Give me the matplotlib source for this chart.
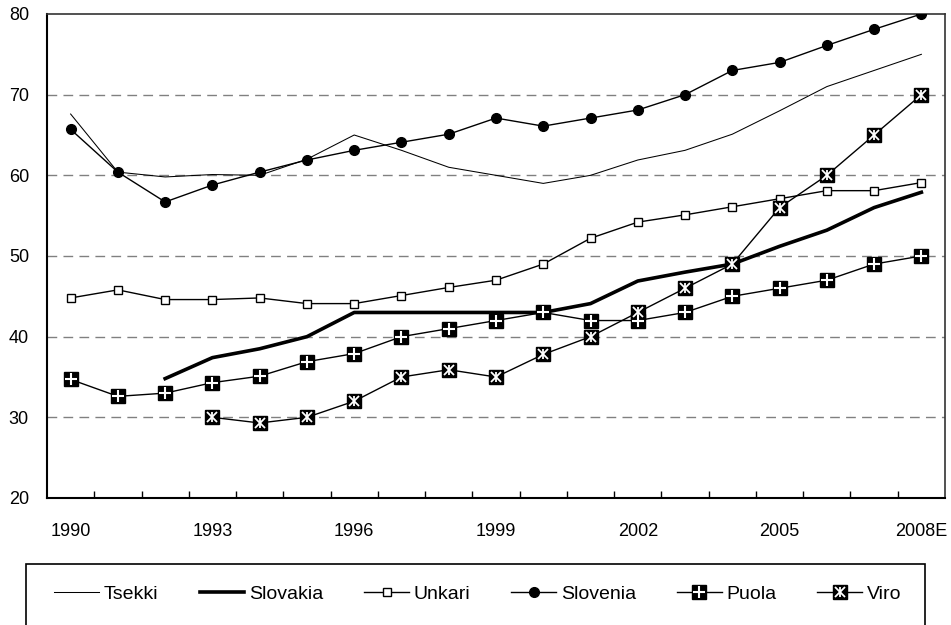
import matplotlib.pyplot as plt
from matplotlib.lines import Line2D
from matplotlib.patches import Rectangle

plt.rcParams['font.family'] = ['Liberation Sans', 'DejaVu Sans']

years = ['1990', '1991', '1992', '1993', '1994', '1995', '1996', '1997', '1998', '1999',
         '2000', '2001', '2002', '2003', '2004', '2005', '2006', '2007', '2008E']
x = list(range(len(years)))

tsekki = [67.6, 60.4, 59.8, 60.1, 60.0, 62.0, 65.0, 63.1, 61.0, 60.0,
          59.0, 60.0, 61.9, 63.1, 65.1, 68.0, 71.0, 73.0, 75.0]
slovakia = [None, None, 34.8, 37.4, 38.5, 40.0, 43.0, 43.0, 43.0, 43.0,
            43.0, 44.1, 46.9, 48.0, 49.0, 51.2, 53.2, 56.0, 57.9]
unkari = [44.8, 45.8, 44.6, 44.6, 44.8, 44.1, 44.1, 45.1, 46.1, 47.0,
          49.0, 52.2, 54.2, 55.1, 56.1, 57.1, 58.1, 58.1, 59.1]
slovenia = [65.7, 60.4, 56.7, 58.8, 60.4, 61.9, 63.1, 64.1, 65.1, 67.1,
            66.1, 67.1, 68.1, 70.0, 73.0, 74.0, 76.1, 78.1, 80.0]
puola = [34.7, 32.6, 33.0, 34.3, 35.1, 36.9, 37.9, 40.0, 41.0, 42.0,
         43.0, 42.0, 42.0, 43.0, 45.0, 46.0, 47.0, 49.0, 50.0]
viro = [None, None, None, 30.0, 29.3, 30.0, 32.0, 35.0, 35.9, 35.0,
        37.8, 40.0, 43.0, 46.0, 49.0, 56.0, 60.0, 65.0, 70.0]

def clean(vals):
    xs = [i for i, v in zip(x, vals) if v is not None]
    ys = [v for v in vals if v is not None]
    return xs, ys

fig = plt.figure(figsize=(9.51, 6.25), dpi=100)
ax = fig.add_axes([47 / 951, 1 - 498 / 625, 898 / 951, 484 / 625])

for yv in [30, 40, 50, 60, 70]:
    ax.axhline(yv, color='#808080', lw=1.0, ls=(0, (7, 4.5)), zorder=0)

ax.plot(*clean(tsekki), color='black', lw=0.75, zorder=2)
ax.plot(*clean(slovakia), color='black', lw=2.6, zorder=2)
ax.plot(*clean(unkari), color='black', lw=1.0, marker='s', ms=6, mfc='white',
        mec='black', mew=1.0, zorder=3)
ax.plot(*clean(slovenia), color='black', lw=1.0, marker='o', ms=7, mfc='black',
        mec='black', zorder=3)
px, py = clean(puola)
ax.plot(px, py, color='black', lw=1.0, marker='s', ms=9.5, mfc='black', mec='black', zorder=3)
ax.plot(px, py, ls='none', marker='+', ms=8, mec='white', mew=1.5, zorder=4)
vx, vy = clean(viro)
ax.plot(vx, vy, color='black', lw=1.0, marker='s', ms=9.5, mfc='black', mec='black', zorder=3)
ax.plot(vx, vy, ls='none', marker='x', ms=6.5, mec='white', mew=1.3, zorder=4)
ax.plot(vx, vy, ls='none', marker='|', ms=7.5, mec='white', mew=1.3, zorder=4)

ax.set_xlim(-0.5, len(years) - 0.5)
ax.set_ylim(20, 80)
ax.set_yticks(range(20, 81, 10))
ax.tick_params(axis='y', length=0, pad=13, labelsize=13)
ax.set_xticks(x[::3])
ax.set_xticklabels(years[::3])
ax.set_xticks([i + 0.5 for i in x[:-1]], minor=True)
ax.tick_params(axis='x', which='major', length=0, pad=18, labelsize=13)
ax.tick_params(axis='x', which='minor', direction='in', length=5, width=1, color='black')
for s in ['left', 'bottom']:
    ax.spines[s].set_linewidth(1.5)
for s in ['top', 'right']:
    ax.spines[s].set_linewidth(1.2)
    ax.spines[s].set_color('#333333')

h_tsekki = Line2D([], [], color='black', lw=0.75)
h_slovakia = Line2D([], [], color='black', lw=2.6)
h_unkari = Line2D([], [], color='black', lw=1.0, marker='s', ms=6, mfc='white', mec='black')
h_slovenia = Line2D([], [], color='black', lw=1.0, marker='o', ms=7, mfc='black')
h_puola = (Line2D([], [], color='black', lw=1.0, marker='s', ms=9.5, mfc='black'),
           Line2D([], [], ls='none', marker='+', ms=8, mec='white', mew=1.5))
h_viro = (Line2D([], [], color='black', lw=1.0, marker='s', ms=9.5, mfc='black'),
          Line2D([], [], ls='none', marker='x', ms=6.5, mec='white', mew=1.3),
          Line2D([], [], ls='none', marker='|', ms=7.5, mec='white', mew=1.3))

fig.legend([h_tsekki, h_slovakia, h_unkari, h_slovenia, h_puola, h_viro],
           ['Tsekki', 'Slovakia', 'Unkari', 'Slovenia', 'Puola', 'Viro'],
           loc='center', bbox_to_anchor=(478 / 951, 1 - 594 / 625), ncol=6,
           frameon=False, fontsize=14, handlelength=2.3, handletextpad=0.25,
           columnspacing=2.1)
fig.patches.append(Rectangle((26 / 951, -0.1), (925 - 26) / 951, 0.1 + 1 - 564 / 625,
                             transform=fig.transFigure, fill=False, ec='black', lw=1.2))

fig.savefig('out.png', dpi=100)
